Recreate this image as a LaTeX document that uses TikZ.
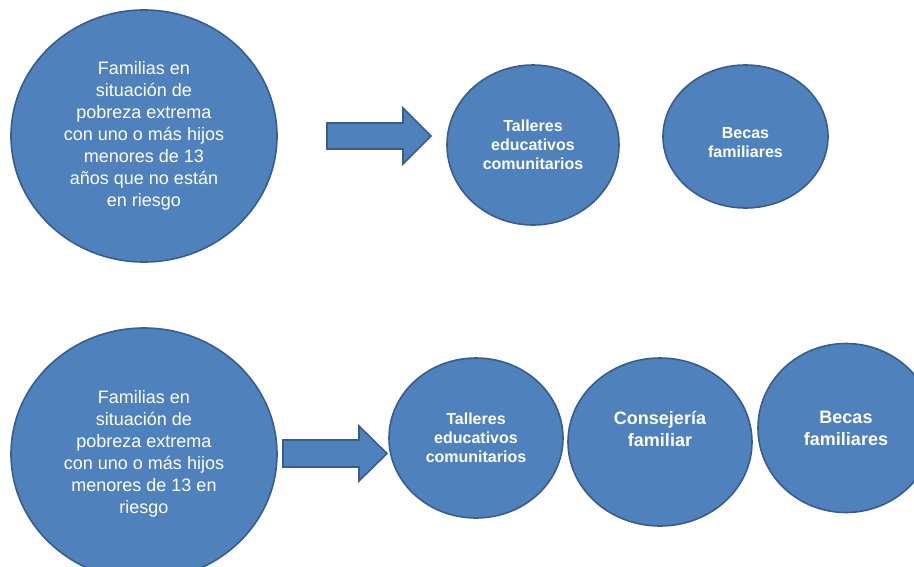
\documentclass[tikz,border=0pt]{standalone}
\usepackage{fontspec}
\setmainfont{Liberation Sans}
\usepackage{tikz}
\usetikzlibrary{shapes.geometric, positioning}
\usepackage{xcolor}

\definecolor{bubblefill}{HTML}{4F81BD}
\definecolor{bubbleline}{HTML}{385D8A}

\tikzset{
	bubble/.style={ellipse, draw=bubbleline, fill=bubblefill, line width=1.6pt, inner sep=0pt, text=white, align=center},
	bigtext/.style={font=\fontsize{18}{22}\selectfont},
	smalltext/.style={font=\bfseries\fontsize{16}{19}\selectfont},
	midtext/.style={font=\bfseries\fontsize{18}{22}\selectfont},
	blockarrow/.style={draw=bubbleline, fill=bubblefill, line width=1.6pt, line join=miter}
}

\begin{document}
\begin{tikzpicture}[x=1pt, y=-1pt]
		\useasboundingbox (0,0) rectangle (914,566);

		% first row
		\draw (144,136) node[bubble, bigtext, minimum width=266pt, minimum height=252pt] (fam1) {Familias en\\situación de\\pobreza extrema\\con uno o más hijos\\menores de 13\\años que no están\\en riesgo}
		(533,145) node[bubble, smalltext, minimum width=172pt, minimum height=160pt] (tal1) {Talleres\\educativos\\comunitarios}
		(745.5,136.5) node[bubble, smalltext, minimum width=165pt, minimum height=143pt] (bec1) {\rule{0pt}{24pt}Becas\\familiares};

		% second row
		\draw (144,454) node[bubble, bigtext, minimum width=266pt, minimum height=252pt] (fam2) {Familias en\\situación de\\pobreza extrema\\con uno o más hijos\\menores de 13 en\\riesgo}
		(476,438) node[bubble, smalltext, minimum width=174pt, minimum height=160pt] (tal2) {Talleres\\educativos\\comunitarios}
		(660,442) node[bubble, midtext, minimum width=184pt, minimum height=168pt] (con2) {Consejería\\familiar\\[4pt]\mbox{}}
		(846,428) node[bubble, midtext, minimum width=176pt, minimum height=169pt] (bec2) {Becas\\familiares};

		% block arrows
		\coordinate (tail1) at (327,136);
		\coordinate (tail2) at (283,453);
		\draw[blockarrow] (tail1) ++(0,-13) -- ++(76,0) -- ++(0,-15) -- ++(28,28) -- ++(-28,28) -- ++(0,-15) -- ++(-76,0) -- cycle;
		\draw[blockarrow] (tail2) ++(0,-13) -- ++(76,0) -- ++(0,-14) -- ++(28,27.5) -- ++(-28,27.5) -- ++(0,-14) -- ++(-76,0) -- cycle;
	\end{tikzpicture}
\end{document}
